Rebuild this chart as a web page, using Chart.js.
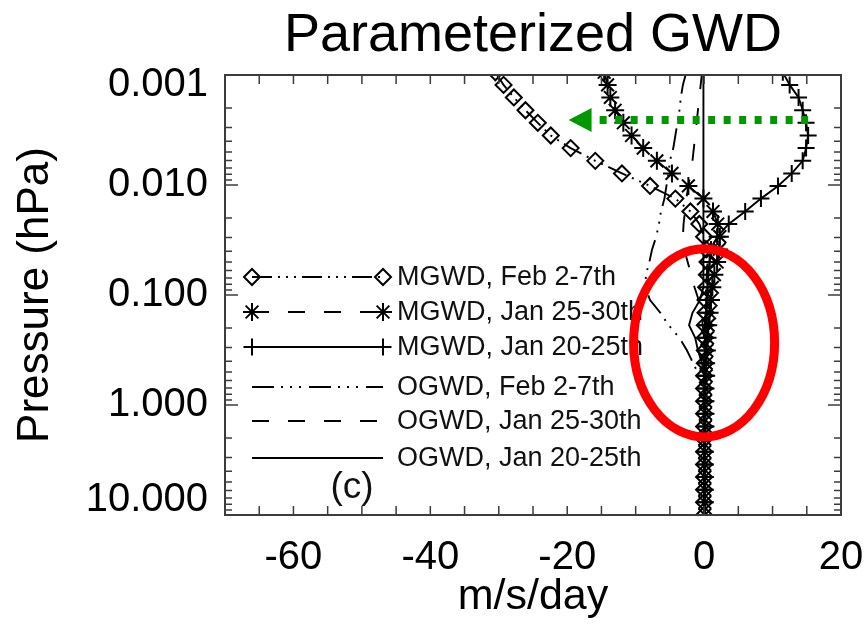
<!DOCTYPE html>
<html>
<head>
<meta charset="utf-8">
<script src="https://cdn.jsdelivr.net/npm/chart.js@4.4.1/dist/chart.umd.min.js"></script>
<style>
  html, body { margin: 0; padding: 0; background: #fff; }
  #chart { display: block; }
</style>
</head>
<body>
<canvas id="chart" width="865" height="625"></canvas>
<script>
// pressure levels (hPa), top of the model down to 10 hPa
const pressureLevels = [0.000944, 0.00123, 0.00160, 0.00209, 0.00272, 0.00355, 0.00462, 0.00603, 0.00785, 0.0102,
  0.0133, 0.0174, 0.0226, 0.0295, 0.0385, 0.0501, 0.0653, 0.0851, 0.111, 0.145,
  0.188, 0.245, 0.320, 0.417, 0.543, 0.708, 0.923, 1.20, 1.57, 2.04,
  2.66, 3.47, 4.52, 5.89, 7.67, 10.0];

// drag in m/s/day at each level
const mgwdFeb = [-30.5, -29.3, -27.8, -26.1, -24.3, -22.4, -19.5, -15.9, -12.0, -7.9,
  -4.2, -2.0, -0.7, 0.0, 0.3, 0.5, 0.4, 0.3, 0.2, 0.2,
  0.1, 0.1, 0.1, 0.1, 0.0, 0.0, 0.0, 0.0, 0.0, 0.0,
  0.0, 0.0, 0.0, 0.0, 0.0, 0.0];
const mgwdJan2530 = [-14.6, -14.1, -13.7, -13.0, -11.8, -10.6, -8.9, -6.9, -4.7, -2.3,
  -0.1, 1.3, 2.0, 2.3, 2.2, 1.9, 1.5, 1.2, 1.0, 0.8,
  0.6, 0.5, 0.4, 0.3, 0.3, 0.2, 0.2, 0.2, 0.2, 0.1,
  0.1, 0.1, 0.1, 0.1, 0.1, 0.1];
const mgwdJan2025 = [11.5, 12.5, 13.8, 14.4, 14.9, 15.2, 14.9, 14.4, 12.8, 10.8,
  8.3, 6.0, 3.6, 1.9, 1.0, 0.8, 0.6, 0.5, 0.4, 0.3,
  0.3, 0.2, 0.2, 0.2, 0.2, 0.1, 0.1, 0.1, 0.1, 0.1,
  0.1, 0.1, 0.1, 0.1, 0.1, 0.1];
const ogwdFeb = [-2.6, -3.1, -3.4, -3.6, -3.9, -4.2, -4.5, -5.0, -5.2, -5.5,
  -5.8, -6.3, -6.6, -7.0, -7.6, -8.0, -8.5, -8.6, -7.9, -6.4,
  -5.2, -3.6, -2.5, -1.6, -0.7, -0.2, 0, 0, 0, 0,
  0, 0, 0, 0, 0, 0];
const ogwdJan2530 = [-0.3, -0.5, -0.7, -0.9, -1.1, -1.3, -1.5, -1.7, -2.0, -2.3,
  -2.6, -2.8, -3.0, -3.1, -2.9, -2.4, -1.9, -1.4, -0.8, -0.4,
  -0.2, 0, 0, 0, 0, 0, 0, 0, 0, 0,
  0, 0, 0, 0, 0, 0];
const ogwdJan2025 = [-0.1, -0.1, -0.1, -0.1, -0.1, -0.1, -0.1, -0.1, -0.1, -0.1,
  -0.1, -0.1, -0.1, -0.1, -0.1, -0.1, -0.1, -0.1, -0.6, -1.7,
  -2.2, -1.3, -0.9, -0.3, 0, 0, 0, 0, 0, 0,
  0, 0, 0, 0, 0, 0];

const seriesLabels = ['MGWD, Feb 2-7th', 'MGWD, Jan 25-30th', 'MGWD, Jan 20-25th',
  'OGWD, Feb 2-7th', 'OGWD, Jan 25-30th', 'OGWD, Jan 20-25th'];

// axes
const xTickValues = [-60, -40, -20, 0, 20];
const xMinorTicks = [-65, -60, -55, -50, -45, -40, -35, -30, -25, -20, -15, -10, -5, 0, 5, 10, 15];
const yMajorTicks = [0.001, 0.01, 0.1, 1, 10];
const yTickLabels = ['0.001', '0.010', '0.100', '1.000', '10.000'];
const yMinorTicks = [0.002, 0.003, 0.004, 0.005, 0.006, 0.007, 0.008, 0.009,
  0.02, 0.03, 0.04, 0.05, 0.06, 0.07, 0.08, 0.09,
  0.2, 0.3, 0.4, 0.5, 0.6, 0.7, 0.8, 0.9,
  2, 3, 4, 5, 6, 7, 8, 9];

// annotations (data units)
const arrowLevel = 0.00256, arrowFrom = 15.2, arrowTo = -19.8;
const ringCenterX = 0.0, ringHalfWidth = 10.3, ringTop = 0.038, ringBottom = 1.95;

const FONT = '"Liberation Sans", Arial, Helvetica, sans-serif';
Chart.defaults.font.family = FONT;
Chart.defaults.color = '#000';

function toPoints(values) {
  return values.map((v, i) => ({ x: v, y: pressureLevels[i] }));
}

const DASH_DOT3 = [20, 6, 2, 6, 2, 6, 2, 6];
const DASHED = [17, 19];

const datasets = [
  { label: seriesLabels[0], data: toPoints(mgwdFeb), borderDash: DASH_DOT3, pointStyle: 'rectRot', pointRadius: 8 },
  { label: seriesLabels[1], data: toPoints(mgwdJan2530), borderDash: DASHED, pointStyle: 'star', pointRadius: 9 },
  { label: seriesLabels[2], data: toPoints(mgwdJan2025), borderDash: [], pointStyle: 'cross', pointRadius: 8.5 },
  { label: seriesLabels[3], data: toPoints(ogwdFeb), borderDash: [22, 7, 2, 7, 2, 7, 2, 8], pointRadius: 0 },
  { label: seriesLabels[4], data: toPoints(ogwdJan2530), borderDash: DASHED, pointRadius: 0 },
  { label: seriesLabels[5], data: toPoints(ogwdJan2025), borderDash: [], pointRadius: 0 }
].map(d => Object.assign({
  showLine: true,
  borderColor: '#000',
  borderWidth: 1.9,
  pointBorderColor: '#000',
  pointBackgroundColor: 'rgba(0,0,0,0)',
  pointBorderWidth: 2,
  pointHoverRadius: 0,
  tension: 0,
  clip: 0
}, d));

// box with inward IDL-style ticks on all four sides
const frameTicks = {
  id: 'frameTicks',
  afterDatasetsDraw(chart) {
    const { ctx, chartArea: a, scales: { x, y } } = chart;
    ctx.save();
    ctx.strokeStyle = '#3c3c3c';
    ctx.lineWidth = 1.5;
    ctx.beginPath();
    xMinorTicks.forEach(v => {
      const px = x.getPixelForValue(v);
      ctx.moveTo(px, a.bottom); ctx.lineTo(px, a.bottom - 9);
      ctx.moveTo(px, a.top); ctx.lineTo(px, a.top + 9);
    });
    yMajorTicks.forEach(v => {
      const py = y.getPixelForValue(v);
      ctx.moveTo(a.left, py); ctx.lineTo(a.left + 13, py);
      ctx.moveTo(a.right, py); ctx.lineTo(a.right - 13, py);
    });
    yMinorTicks.forEach(v => {
      const py = y.getPixelForValue(v);
      ctx.moveTo(a.left, py); ctx.lineTo(a.left + 7, py);
      ctx.moveTo(a.right, py); ctx.lineTo(a.right - 7, py);
    });
    ctx.stroke();
    ctx.lineWidth = 2;
    ctx.strokeRect(a.left, a.top, a.right - a.left, a.bottom - a.top);
    ctx.restore();
  }
};

// legend drawn inside the plot, line samples with a marker at each end
const sampleLegend = {
  id: 'sampleLegend',
  afterDatasetsDraw(chart) {
    const ctx = chart.ctx;
    const rows = [277, 312, 347, 387, 421, 458];
    const x0 = 252, x1 = 383, tx = 397;
    ctx.save();
    chart.data.datasets.forEach((ds, i) => {
      const yy = rows[i];
      ctx.strokeStyle = '#000';
      ctx.lineWidth = ds.borderWidth;
      ctx.setLineDash(ds.borderDash);
      ctx.beginPath();
      ctx.moveTo(x0, yy); ctx.lineTo(x1, yy);
      ctx.stroke();
      ctx.setLineDash([]);
      if (ds.pointRadius > 0) {
        ctx.fillStyle = 'rgba(0,0,0,0)';
        ctx.lineWidth = ds.pointBorderWidth;
        const opts = { pointStyle: ds.pointStyle, radius: ds.pointRadius, rotation: 0, borderWidth: ds.pointBorderWidth };
        Chart.helpers.drawPoint(ctx, opts, x0, yy);
        Chart.helpers.drawPoint(ctx, opts, x1, yy);
      }
      ctx.fillStyle = '#111';
      ctx.font = '27px ' + FONT;
      ctx.textAlign = 'left';
      ctx.textBaseline = 'middle';
      ctx.fillText(ds.label, tx, yy + 1);
    });
    ctx.font = '37px ' + FONT;
    ctx.textAlign = 'center';
    ctx.fillText('(c)', 352, 488);
    ctx.restore();
  }
};

// red ring and green dotted arrow on top
const marks = {
  id: 'marks',
  afterDraw(chart) {
    const { ctx, scales: { x, y } } = chart;
    ctx.save();
    const cx = x.getPixelForValue(ringCenterX);
    const rx = x.getPixelForValue(ringCenterX + ringHalfWidth) - cx;
    const yt = y.getPixelForValue(ringTop), yb = y.getPixelForValue(ringBottom);
    ctx.strokeStyle = '#ff0000';
    ctx.lineWidth = 9;
    ctx.beginPath();
    ctx.ellipse(cx, (yt + yb) / 2, rx, (yb - yt) / 2, 0, 0, Math.PI * 2);
    ctx.stroke();

    const ay = y.getPixelForValue(arrowLevel);
    const ax0 = x.getPixelForValue(arrowFrom), ax1 = x.getPixelForValue(arrowTo);
    ctx.strokeStyle = '#009a00';
    ctx.fillStyle = '#009a00';
    ctx.lineWidth = 8;
    ctx.setLineDash([7, 8.5]);
    ctx.beginPath();
    ctx.moveTo(ax0, ay); ctx.lineTo(ax1 + 23, ay);
    ctx.stroke();
    ctx.setLineDash([]);
    ctx.beginPath();
    ctx.moveTo(ax1, ay);
    ctx.lineTo(ax1 + 23, ay - 12);
    ctx.lineTo(ax1 + 23, ay + 12);
    ctx.closePath();
    ctx.fill();
    ctx.restore();
  }
};

new Chart(document.getElementById('chart'), {
  type: 'scatter',
  data: { datasets: datasets },
  options: {
    responsive: false,
    animation: false,
    devicePixelRatio: 1,
    layout: { padding: { left: 0, right: 24, top: 0, bottom: 0 } },
    plugins: {
      legend: { display: false },
      tooltip: { enabled: false },
      title: {
        display: true,
        fullSize: false,
        text: 'Parameterized GWD',
        color: '#000',
        font: { size: 54, weight: 'normal', lineHeight: 1.2 },
        padding: { top: 4, bottom: 6.2 }
      }
    },
    scales: {
      x: {
        type: 'linear',
        position: 'bottom',
        min: -70,
        max: 20,
        afterBuildTicks: s => { s.ticks = xTickValues.map(v => ({ value: v })); },
        afterFit: s => { s.height = 110; s.paddingLeft = 0; s.paddingRight = 0; },
        grid: { display: false, drawTicks: false },
        border: { display: false },
        ticks: { font: { size: 40 }, color: '#000', padding: 19, maxRotation: 0, autoSkip: false },
        title: { display: true, text: 'm/s/day', font: { size: 43, lineHeight: 1.1 }, color: '#000', padding: { top: 0, bottom: 4 } }
      },
      y: {
        type: 'logarithmic',
        reverse: true,
        min: 0.001,
        max: 10,
        afterBuildTicks: s => { s.ticks = yMajorTicks.map(v => ({ value: v })); },
        afterFit: s => { s.width = 225; s.paddingTop = 0; s.paddingBottom = 0; },
        grid: { display: false, drawTicks: false },
        border: { display: false },
        ticks: {
          color: '#000',
          padding: 17,
          autoSkip: false,
          // end labels sit inside the box, as in the original plot
          callback: (v, i) => i === 0 ? ['', yTickLabels[i]] : (i === yTickLabels.length - 1 ? [yTickLabels[i], ''] : yTickLabels[i]),
          font: c => ({ size: 40, family: FONT, lineHeight: c.index === 0 ? 0.5 : (c.index === yTickLabels.length - 1 ? 0.75 : 1.2) })
        },
        title: { display: true, text: 'Pressure (hPa)', font: { size: 44, lineHeight: 1.1 }, color: '#000', padding: { top: 12, bottom: 0 } }
      }
    }
  },
  plugins: [frameTicks, sampleLegend, marks]
});
</script>
</body>
</html>
